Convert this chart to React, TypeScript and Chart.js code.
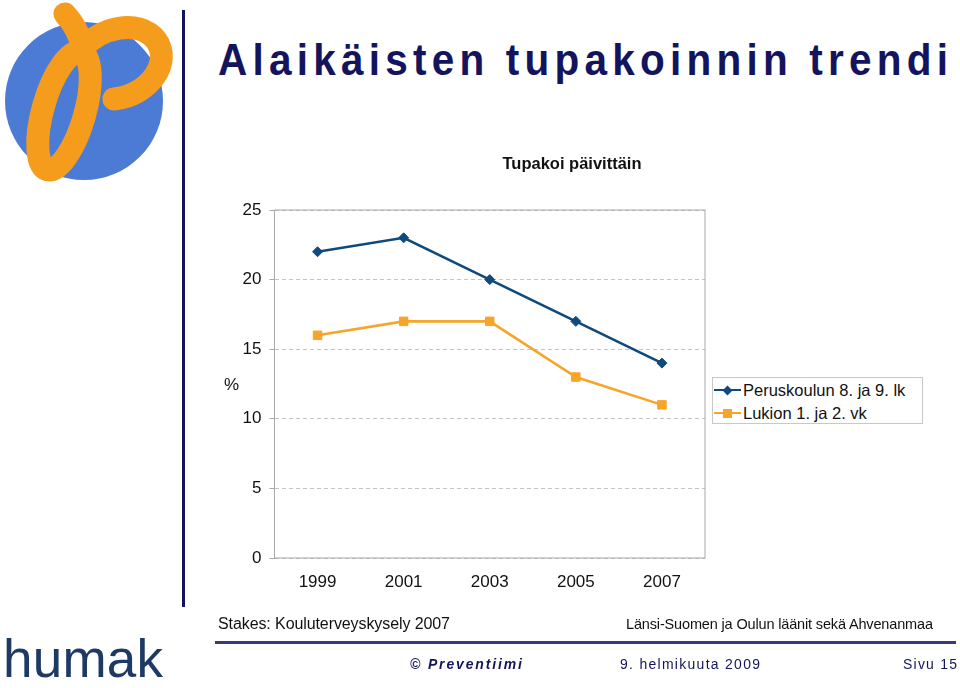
import React, { useEffect, useLayoutEffect, useRef } from "react";
import { Chart, registerables } from "chart.js";

Chart.register(...registerables);

// ---- data ----
const years = ["1999", "2001", "2003", "2005", "2007"];
const peruskouluValues = [22, 23, 20, 17, 14];
const lukioValues = [16, 17, 17, 13, 11];
const seriesLabels = ["Peruskoulun 8. ja 9. lk", "Lukion 1. ja 2. vk"];
const yMin = 0;
const yMax = 25;
const yStep = 5;

// ---- styles ----
const BLUE = "#0e4a7c";
const ORANGE = "#f6a52a";
const NAVY = "#14145e";
const FONT = "'Liberation Sans', Arial, Helvetica, sans-serif";

type FitProps = { text: string; width: number; condense?: number; style: React.CSSProperties };

function FitText({ text, width, condense = 1, style }: FitProps) {
  const ref = useRef<HTMLSpanElement>(null);
  useLayoutEffect(() => {
    const el = ref.current;
    if (!el) return;
    el.style.letterSpacing = "0px";
    el.style.transform = "none";
    const w = el.getBoundingClientRect().width;
    const n = Array.from(text).length;
    if (n > 1) el.style.letterSpacing = (width / condense - w) / (n - 1) + "px";
    el.style.transform = `scaleX(${condense})`;
  }, [text, width, condense]);
  return (
    <span
      ref={ref}
      style={{
        position: "absolute",
        whiteSpace: "nowrap",
        lineHeight: 1,
        transformOrigin: "0 0",
        ...style,
      }}
    >
      {text}
    </span>
  );
}

const framePlugin = {
  id: "frame",
  beforeDatasetsDraw(chart: any) {
    const { ctx, chartArea } = chart;
    ctx.save();
    ctx.strokeStyle = "#a8a8a8";
    ctx.lineWidth = 1;
    ctx.strokeRect(chartArea.left, chartArea.top, chartArea.right - chartArea.left, chartArea.bottom - chartArea.top);
    ctx.restore();
  },
};

function Logo() {
  return (
    <svg width={200} height={200} style={{ position: "absolute", left: 0, top: 0 }}>
      <circle cx={84} cy={101} r={79} fill="#4b7bd4" />
      <g fill="none" stroke="#f59c1c" strokeWidth={23} strokeLinecap="round">
        <ellipse cx={64} cy={111} rx={21} ry={61} transform="rotate(16 64 111)" />
        <path d="M 65 14 Q 78 28 83 48" />
        <path d="M 83 48 C 100 28, 138 18, 156 40 C 172 62, 150 95, 114 99" />
      </g>
    </svg>
  );
}

function LegendBox() {
  const rows = [
    { label: seriesLabels[0], color: BLUE, shape: "diamond", cy: 13 },
    { label: seriesLabels[1], color: ORANGE, shape: "square", cy: 36 },
  ];
  return (
    <div
      style={{
        position: "absolute",
        left: 712,
        top: 377,
        width: 211,
        height: 47,
        border: "1px solid #c8c8c8",
        boxSizing: "border-box",
        background: "#fff",
      }}
    >
      {rows.map((r) => (
        <div key={r.label}>
          <div
            style={{
              position: "absolute",
              left: 1,
              top: r.cy - 2.5,
              width: 27,
              height: 2.5,
              background: r.color,
            }}
          />
          {r.shape === "diamond" ? (
            <div
              style={{
                position: "absolute",
                left: 14.5 - 3.5,
                top: r.cy - 1 - 3.5,
                width: 7,
                height: 7,
                background: r.color,
                transform: "rotate(45deg)",
              }}
            />
          ) : (
            <div
              style={{
                position: "absolute",
                left: 14.5 - 4.5,
                top: r.cy - 1 - 4.5,
                width: 9,
                height: 9,
                background: r.color,
              }}
            />
          )}
          <span
            style={{
              position: "absolute",
              left: 30,
              top: r.cy - 9,
              fontFamily: FONT,
              fontSize: 16.5,
              lineHeight: 1,
              whiteSpace: "nowrap",
              color: "#111",
            }}
          >
            {r.label}
          </span>
        </div>
      ))}
    </div>
  );
}

export default function App() {
  const canvasRef = useRef<HTMLCanvasElement>(null);

  useEffect(() => {
    if (!canvasRef.current) return;
    Chart.defaults.font.family = FONT;
    const chart = new Chart(canvasRef.current, {
      type: "line",
      data: {
        labels: years,
        datasets: [
          {
            label: seriesLabels[0],
            data: peruskouluValues,
            borderColor: BLUE,
            backgroundColor: BLUE,
            borderWidth: 2.6,
            pointStyle: "rectRot",
            pointRadius: 5,
            pointBorderWidth: 1,
            tension: 0,
          },
          {
            label: seriesLabels[1],
            data: lukioValues,
            borderColor: ORANGE,
            backgroundColor: ORANGE,
            borderWidth: 2.6,
            pointStyle: "rect",
            pointRadius: 6,
            pointBorderWidth: 1,
            tension: 0,
          },
        ],
      },
      options: {
        animation: false,
        responsive: false,
        devicePixelRatio: 1,
        layout: { padding: { left: 200, right: 255, top: 210, bottom: 90 } },
        plugins: {
          legend: { display: false },
          title: { display: false },
          tooltip: { enabled: false },
        },
        scales: {
          x: {
            type: "category",
            offset: true,
            grid: { display: false, drawTicks: false },
            border: { display: false },
            ticks: { font: { size: 17, family: FONT }, color: "#111", padding: 14 },
            afterFit: (s: any) => {
              s.height = 40;
            },
          },
          y: {
            min: yMin,
            max: yMax,
            ticks: { stepSize: yStep, font: { size: 17, family: FONT }, color: "#111", padding: 8 },
            grid: { color: "#c4c4c4", tickLength: 5, tickColor: "#a8a8a8", lineWidth: 1 },
            border: { display: false, dash: [4, 3] },
            afterFit: (s: any) => {
              s.width = 74.5;
            },
          },
        },
      } as any,
      plugins: [framePlugin],
    });
    return () => chart.destroy();
  }, []);

  return (
    <div
      style={{
        position: "absolute",
        left: 0,
        top: 0,
        width: 960,
        height: 688,
        background: "#fff",
        overflow: "hidden",
        fontFamily: FONT,
      }}
    >
      <Logo />
      <div style={{ position: "absolute", left: 182, top: 10, width: 3, height: 597, background: NAVY }} />
      <FitText
        text="Alaikäisten tupakoinnin trendi"
        width={730}
        condense={0.9}
        style={{ left: 218, top: 37, fontSize: 45, fontWeight: 700, color: NAVY }}
      />
      <canvas
        ref={canvasRef}
        width={960}
        height={688}
        style={{ position: "absolute", left: 0, top: 0, width: 960, height: 688 }}
      />
      <span
        style={{
          position: "absolute",
          left: 498,
          top: 155,
          width: 148,
          textAlign: "center",
          fontSize: 16.5,
          fontWeight: 700,
          lineHeight: 1,
          whiteSpace: "nowrap",
          color: "#111",
        }}
      >
        Tupakoi päivittäin
      </span>
      <span style={{ position: "absolute", left: 224, top: 376, fontSize: 17, lineHeight: 1, color: "#111" }}>%</span>
      <LegendBox />
      <FitText
        text="Stakes: Kouluterveyskysely 2007"
        width={232}
        style={{ left: 218, top: 616, fontSize: 16, color: "#111" }}
      />
      <FitText
        text="Länsi-Suomen ja Oulun läänit sekä Ahvenanmaa"
        width={307}
        style={{ left: 626, top: 617, fontSize: 14.5, color: "#111" }}
      />
      <div style={{ position: "absolute", left: 215, top: 641, width: 741, height: 2.5, background: "#3a3a78" }} />
      <FitText
        text="humak"
        width={160}
        style={{ left: 3, top: 632, fontSize: 53, color: "#1e3a64" }}
      />
      <FitText
        text="© Preventiimi"
        width={112}
        condense={0.9}
        style={{ left: 410, top: 656, fontSize: 15.5, fontWeight: 700, fontStyle: "italic", color: NAVY }}
      />
      <FitText
        text="9. helmikuuta 2009"
        width={140}
        condense={0.9}
        style={{ left: 620, top: 656, fontSize: 15.5, color: NAVY }}
      />
      <FitText
        text="Sivu 15"
        width={54}
        condense={0.9}
        style={{ left: 903, top: 656, fontSize: 15.5, color: NAVY }}
      />
    </div>
  );
}
